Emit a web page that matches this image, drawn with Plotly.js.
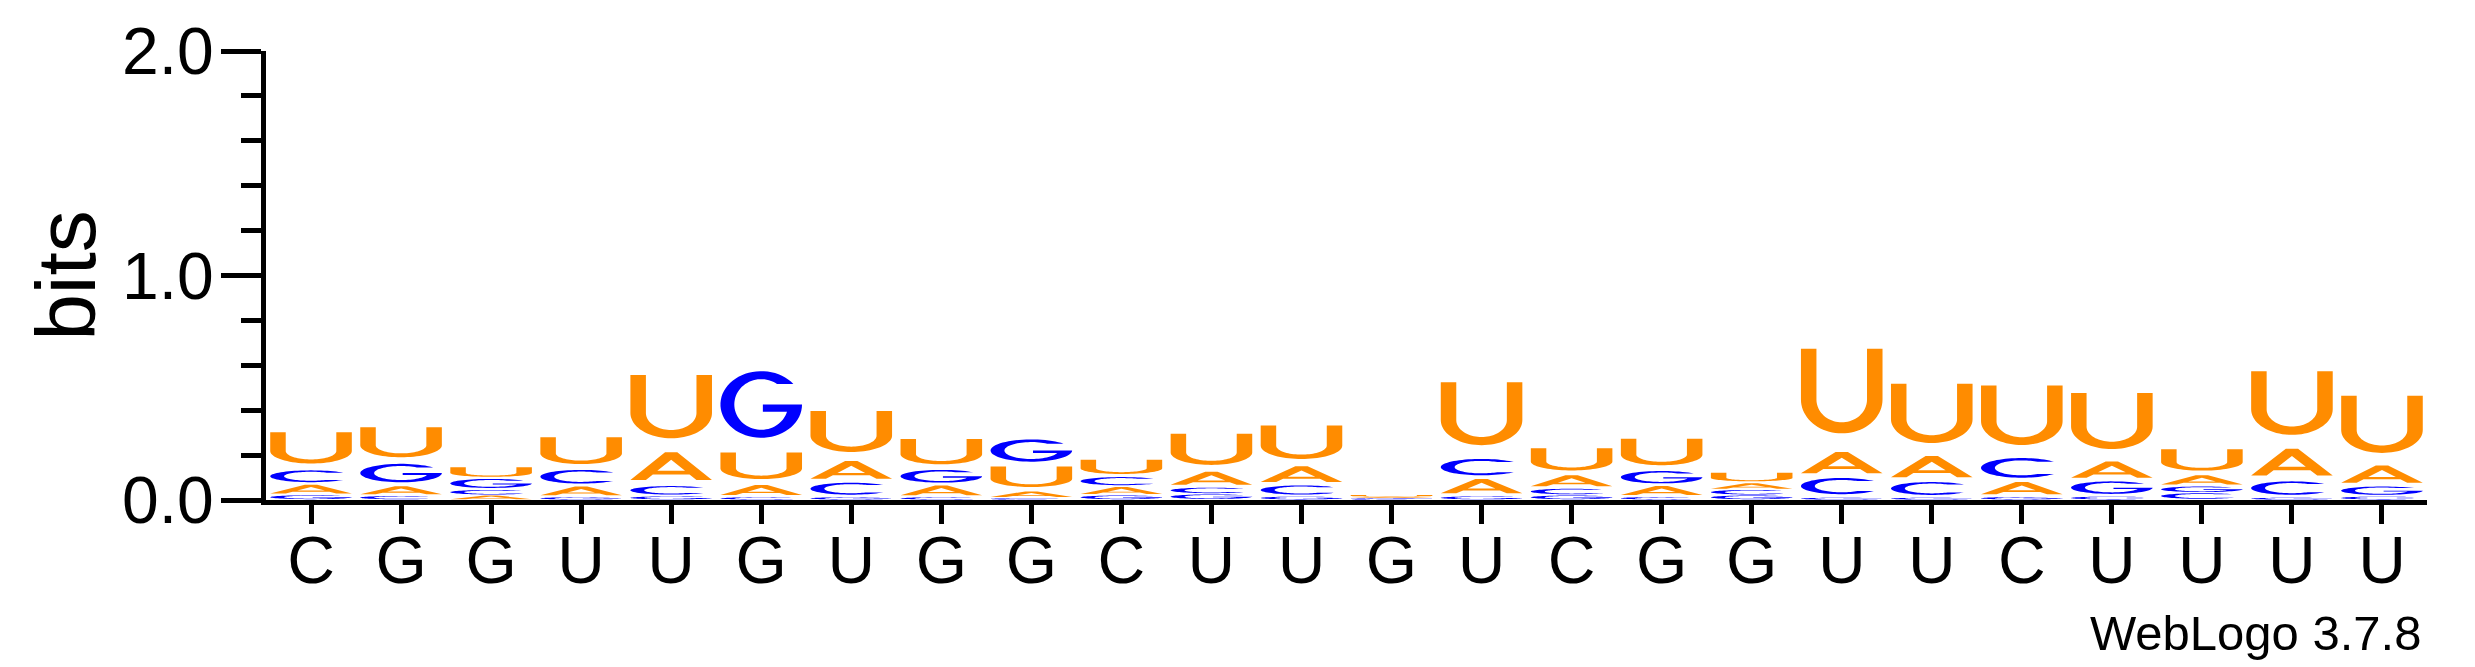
<!DOCTYPE html>
<html>
<head>
<meta charset="utf-8">
<script src="https://cdn.plot.ly/plotly-3.0.1.min.js"></script>
<style>html,body{margin:0;padding:0;background:#fff;}#chart{width:2475px;height:667px;}</style>
</head>
<body>
<div id="chart"></div>
<script>
// ---- data (bits per letter at each position) ----
const seqLabels = ['C','G','G','U','U','G','U','G','G','C','U','U','G','U','C','G','G','U','U','C','U','U','U','U'];
const positions = [1,2,3,4,5,6,7,8,9,10,11,12,13,14,15,16,17,18,19,20,21,22,23,24];
const bitsA = [0.047,0.043,0.020,0.048,0.151,0.055,0.097,0.053,0.030,0.038,0.071,0.085,0.006,0.078,0.060,0.049,0.030,0.116,0.116,0.067,0.089,0.050,0.145,0.094];
const bitsC = [0.064,0.018,0.025,0.074,0.046,0.012,0.065,0.012,0.008,0.044,0.030,0.050,0.004,0.089,0.030,0.013,0.025,0.088,0.070,0.107,0.015,0.030,0.073,0.015];
const bitsG = [0.021,0.100,0.049,0.012,0.016,0.362,0.012,0.069,0.121,0.020,0.025,0.015,0.004,0.016,0.020,0.067,0.020,0.010,0.010,0.013,0.068,0.030,0.010,0.045];
const bitsU = [0.170,0.163,0.052,0.145,0.344,0.145,0.222,0.138,0.111,0.077,0.169,0.182,0.008,0.341,0.121,0.144,0.046,0.460,0.322,0.323,0.305,0.116,0.346,0.310];
const letterColors = {A:'#FF8C00', U:'#FF8C00', C:'#0000FF', G:'#0000FF'};

// ---- glyph outlines in a unit box (u right, v up) ----
function arc(cx, cy, rx, ry, a0, a1, n) {
  const pts = [];
  for (let i = 0; i <= n; i++) {
    const a = (a0 + (a1 - a0) * i / n) * Math.PI / 180;
    pts.push([cx + rx * Math.cos(a), cy + ry * Math.sin(a)]);
  }
  return pts;
}
function glyphU() {
  const s = 0.19, ry = 0.40, t = 0.13;
  let p = [[0,1],[0,ry]];
  p = p.concat(arc(0.5, ry, 0.5, ry, 180, 360, 40));
  p.push([1,1],[1-s,1],[1-s,ry]);
  p = p.concat(arc(0.5, ry, 0.5-s, ry-t, 360, 180, 40));
  p.push([s,1]);
  return [p];
}
function glyphC() {
  const s = 0.17, t = 0.12, a = 38;
  const ri = 0.5 - t;
  const yTop = 0.5 + 0.5 * Math.sin(a*Math.PI/180);
  const ai = Math.asin(Math.min(1,(yTop-0.5)/ri))*180/Math.PI;
  let p = arc(0.5,0.5,0.5,0.5,a,360-a,60);
  p = p.concat(arc(0.5,0.5,0.5-s,ri,360-ai,ai,60));
  return [p];
}
function glyphG() {
  const s = 0.17, t = 0.12, a = 38, bt = 0.11, barTop = 0.5, barLeft = 0.52;
  const ri = 0.5 - t;
  const yTop = 0.5 + 0.5 * Math.sin(a*Math.PI/180);
  const ai = Math.asin(Math.min(1,(yTop-0.5)/ri))*180/Math.PI;
  let p = arc(0.5,0.5,0.5,0.5,a,360,60);
  p.push([barLeft,barTop],[barLeft,barTop-bt],[1-s,barTop-bt]);
  const phi = -Math.asin(bt/ri)*180/Math.PI;
  p = p.concat(arc(0.5,0.5,0.5-s,ri,360+phi,ai,60));
  return [p];
}
function glyphA() {
  const sw = 0.19, a = 0.075, cb = 0.20, ct = 0.33, k = 0.5 - a;
  const outer = [[0,0],[0.5-a,1],[0.5+a,1],[1,0],[1-sw,0],[1-sw-k*cb,cb],[sw+k*cb,cb],[sw,0]];
  const apexY = (1-2*sw)/(2*k);
  const hole = [[sw+k*ct,ct],[0.5,apexY],[1-sw-k*ct,ct]];
  return [outer, hole];
}
const glyphs = {A: glyphA(), C: glyphC(), G: glyphG(), U: glyphU()};

function glyphPath(letter, x0, x1, y0, y1) {
  return glyphs[letter].map(poly => poly.map((pt, i) =>
    (i === 0 ? 'M' : 'L') + (x0 + pt[0]*(x1-x0)).toFixed(5) + ',' + (y0 + pt[1]*(y1-y0)).toFixed(6)
  ).join('') + 'Z').join('');
}

// ---- build stacks ----
const halfW = 0.453, gapFrac = 0.18;
const shapes = [];
positions.forEach((pos, i) => {
  const stack = [['A',bitsA[i]],['C',bitsC[i]],['G',bitsG[i]],['U',bitsU[i]]]
    .sort((p, q) => p[1] - q[1]);
  let base = 0;
  stack.forEach(([L, h]) => {
    if (h > 0) {
      shapes.push({
        type:'path', xref:'x', yref:'y', layer:'above',
        path: glyphPath(L, pos-halfW, pos+halfW, base + gapFrac*h, base + h),
        fillcolor: letterColors[L], line:{width:0}, fillrule:'evenodd'
      });
    }
    base += h;
  });
});

const fontFam = 'Liberation Sans, Arial, Helvetica, sans-serif';
const layout = {
  width: 2475, height: 667,
  margin: {l: 266, r: 48, t: 51, b: 167, pad: 0},
  paper_bgcolor: '#fff', plot_bgcolor: '#fff',
  showlegend: false,
  font: {family: fontFam, color: '#000'},
  xaxis: {
    range: [0.5, 24.5], tickmode: 'array', tickvals: positions, ticktext: seqLabels,
    showline: true, linewidth: 5, linecolor: '#000', mirror: false,
    ticks: 'outside', ticklen: 19, tickwidth: 5, tickcolor: '#000',
    ticklabelstandoff: -20,
    showgrid: false, zeroline: false, fixedrange: true,
    tickfont: {size: 66, family: fontFam, color: '#000'}
  },
  yaxis: {
    range: [0, 2], tickmode: 'linear', tick0: 0, dtick: 1, tickformat: '.1f',
    showline: true, linewidth: 5, linecolor: '#000',
    ticks: 'outside', ticklen: 40, tickwidth: 5, tickcolor: '#000',
    ticklabelstandoff: -6,
    minor: {tickmode: 'linear', tick0: 0, dtick: 0.2, ticks: 'outside', ticklen: 20, tickwidth: 5, tickcolor: '#000', showgrid: false},
    showgrid: false, zeroline: false, fixedrange: true,
    tickfont: {size: 66, family: fontFam, color: '#000'},
    title: {text: 'bits', font: {size: 84, family: fontFam, color: '#000'}, standoff: 0}
  },
  shapes: shapes,
  annotations: [{
    text: 'WebLogo 3.7.8', xref: 'paper', yref: 'paper', x: 1, y: -0.296,
    xanchor: 'right', yanchor: 'middle', xshift: -4, showarrow: false,
    font: {size: 49, family: fontFam, color: '#000'}
  }]
};
Plotly.newPlot('chart', [{x: [], y: [], type: 'scatter', hoverinfo: 'skip'}], layout, {displayModeBar: false, staticPlot: true});
</script>
</body>
</html>
